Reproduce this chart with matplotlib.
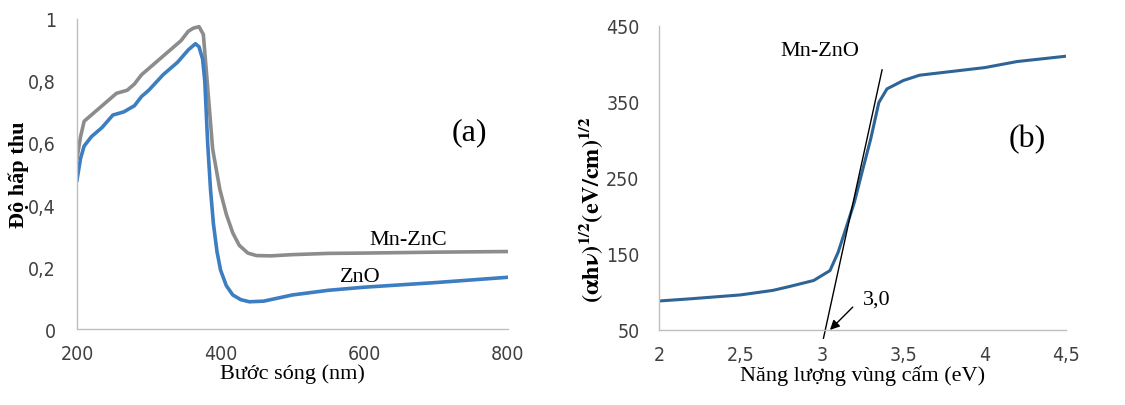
import numpy as np
import matplotlib.pyplot as plt

plt.rcParams['mathtext.fontset'] = 'stix'

# (a) absorption spectra
wl_mnzno = [200, 205, 210, 215, 225, 240, 255, 270, 280, 290, 300, 315, 330, 345, 355, 362, 370,
            376, 382, 389, 399, 408, 417, 426, 438, 450, 470, 500, 550, 600, 700, 800]
abs_mnzno = [0.55, 0.62, 0.67, 0.68, 0.70, 0.73, 0.76, 0.77, 0.79, 0.82, 0.84, 0.87, 0.90, 0.93, 0.96, 0.97, 0.975,
             0.95, 0.78, 0.58, 0.45, 0.37, 0.31, 0.27, 0.245, 0.237, 0.236, 0.24, 0.244, 0.245, 0.248, 0.25]
wl_zno = [200, 205, 210, 220, 235, 250, 265, 280, 290, 300, 320, 340, 355, 365, 370,
          375, 378, 382, 386, 390, 395, 400, 408, 417, 428, 440, 460, 500, 550, 600, 700, 800]
abs_zno = [0.48, 0.55, 0.59, 0.62, 0.65, 0.69, 0.70, 0.72, 0.75, 0.77, 0.82, 0.86, 0.90, 0.92, 0.91,
           0.87, 0.80, 0.60, 0.45, 0.34, 0.25, 0.19, 0.14, 0.11, 0.095, 0.088, 0.09, 0.11, 0.125, 0.135, 0.15, 0.167]

# (b) Tauc plot
energy = [2.0, 2.2, 2.5, 2.7, 2.8, 2.95, 3.05, 3.1, 3.15, 3.2, 3.25, 3.3, 3.35, 3.4, 3.5, 3.6, 3.8, 4.0, 4.2, 4.5]
tauc = [88, 91, 96, 102, 107, 115, 128, 152, 185, 218, 260, 301, 349, 367, 378, 385, 390, 395, 403, 410]
tangent_x = [3.01, 3.37]
tangent_y = [39, 392]

serif = 'Liberation Serif'
tickcol = '#404040'
spinecol = '#bfbfbf'

fig = plt.figure(figsize=(11.25, 4.06), dpi=100)
ax1 = fig.add_axes([0.0684, 0.187, 0.383, 0.764])
ax2 = fig.add_axes([0.5858, 0.185, 0.3618, 0.749])

def style(ax):
    for s in ['top', 'right']:
        ax.spines[s].set_visible(False)
    for s in ['left', 'bottom']:
        ax.spines[s].set_color(spinecol)
        ax.spines[s].set_linewidth(1.0)
    ax.tick_params(length=0, labelcolor=tickcol, labelsize=14)
    for lab in ax.get_xticklabels() + ax.get_yticklabels():
        lab.set_family('DejaVu Sans')
        lab.set_stretch('condensed')
        lab.set_fontweight('light')

# panel (a)
ax1.plot(wl_mnzno, abs_mnzno, color='#8c8c8c', lw=2.6)
ax1.plot(wl_zno, abs_zno, color='#3d7dc2', lw=2.6)
ax1.set_xlim(200, 800)
ax1.set_ylim(0, 1)
ax1.set_xticks([200, 400, 600, 800])
ax1.set_yticks([0, 0.2, 0.4, 0.6, 0.8, 1.0])
ax1.set_yticklabels(['0', '0,2', '0,4', '0,6', '0,8', '1'])
ax1.tick_params(axis='x', pad=11)
ax1.tick_params(axis='y', pad=15)
style(ax1)
ax1.set_xlabel('Bước sóng (nm)', family=serif, fontsize=16, labelpad=0)
ax1.set_ylabel('Độ hấp thu', family=serif, fontsize=16, fontweight='bold')
ax1.yaxis.set_label_coords(-0.112, 0.5)
ax1.text(747, 0.635, '(a)', family=serif, fontsize=23, ha='center', va='center')
ax1.text(661, 0.29, 'Mn-ZnC', family=serif, fontsize=16, ha='center', va='center')
ax1.text(594, 0.17, 'ZnO', family=serif, fontsize=16, ha='center', va='center')

# panel (b)
ax2.plot(energy, tauc, color='#2e6496', lw=2.2)
ax2.plot(tangent_x, tangent_y, color='black', lw=1.0, clip_on=False)
ax2.set_xlim(2, 4.5)
ax2.set_ylim(50, 450)
ax2.set_xticks([2, 2.5, 3, 3.5, 4, 4.5])
ax2.set_xticklabels(['2', '2,5', '3', '3,5', '4', '4,5'])
ax2.set_yticks([50, 150, 250, 350, 450])
ax2.tick_params(axis='x', pad=11)
ax2.tick_params(axis='y', pad=14)
style(ax2)
ax2.set_xlabel('Năng lượng vùng cấm (eV)', family=serif, fontsize=16, labelpad=0)
ax2.set_ylabel(r'$\mathbf{(\alpha h\nu)^{1/2}(eV/cm)^{1/2}}$', fontsize=17.5)
ax2.yaxis.set_label_coords(-0.132, 0.40)
ax2.text(2.99, 417, 'Mn-ZnO', family=serif, fontsize=16, ha='center', va='center')
ax2.text(4.26, 301, '(b)', family=serif, fontsize=23, ha='center', va='center')
ax2.text(3.34, 90, '3,0', family=serif, fontsize=16, ha='center', va='center')
ax2.annotate('', xy=(3.05, 50), xytext=(3.19, 80),
             arrowprops=dict(arrowstyle='-|>', color='black', lw=1.0, shrinkA=0, shrinkB=0,
                             mutation_scale=14))

fig.savefig('out.png', dpi=100)
